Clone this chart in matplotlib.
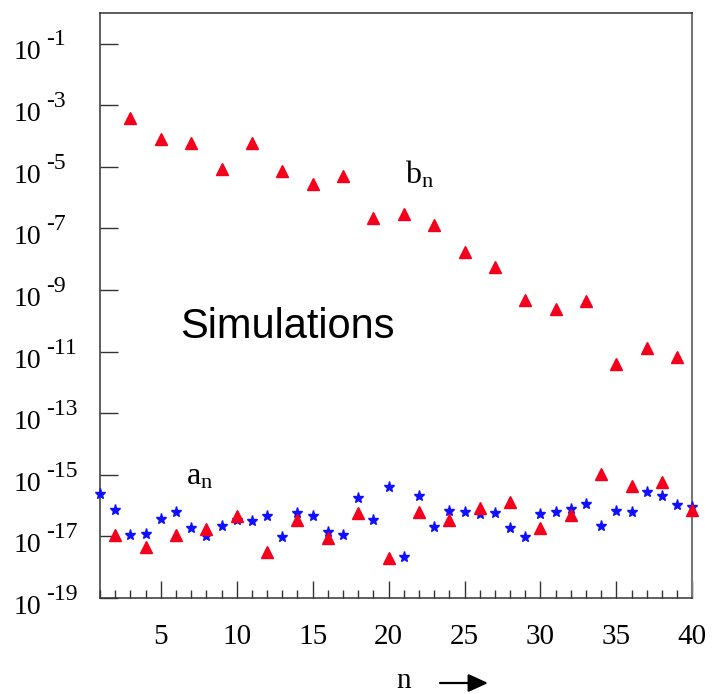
import matplotlib
matplotlib.use('Agg')
import matplotlib.pyplot as plt
from matplotlib.ticker import FixedLocator, MultipleLocator

plt.rcParams['font.family'] = ['Liberation Serif', 'DejaVu Serif']
plt.rcParams['mathtext.fontset'] = 'custom'
plt.rcParams['mathtext.rm'] = 'Liberation Serif'
plt.rcParams['mathtext.it'] = 'Liberation Serif:italic'

# b_n at odd n (red triangles, upper branch), log10 values
n_odd = [3, 5, 7, 9, 11, 13, 15, 17, 19, 21, 23, 25, 27, 29, 31, 33, 35, 37, 39]
b_odd_log = [-3.43, -4.09, -4.24, -5.07, -4.24, -5.15, -5.57, -5.31, -6.66, -6.52,
             -6.90, -7.78, -8.27, -9.33, -9.62, -9.35, -11.40, -10.89, -11.18]

# b_n at even n (red triangles, noise floor)
n_even = [2, 4, 6, 8, 10, 12, 14, 16, 18, 20, 22, 24, 26, 28, 30, 32, 34, 36, 38, 40]
b_even_log = [-16.97, -17.34, -16.97, -16.76, -16.35, -17.50, -16.46, -17.06, -16.23, -17.70,
              -16.20, -16.46, -16.07, -15.88, -16.72, -16.31, -14.97, -15.37, -15.25, -16.14]

# a_n for all n (blue stars)
n_all = list(range(1, 41))
a_log = [-15.63, -16.15, -16.96, -16.91, -16.44, -16.21, -16.74, -16.99, -16.67, -16.47,
         -16.51, -16.34, -17.03, -16.24, -16.34, -16.85, -16.96, -15.74, -16.47, -15.40,
         -17.66, -15.70, -16.69, -16.17, -16.21, -16.26, -16.24, -16.74, -17.03, -16.28,
         -16.21, -16.10, -15.96, -16.67, -16.18, -16.21, -15.56, -15.70, -15.99, -16.04]

ytick_exps = [-19, -17, -15, -13, -11, -9, -7, -5, -3, -1]

fig = plt.figure(figsize=(7.16, 6.94), dpi=100)
ax = fig.add_axes([0.1397, 0.1383, 0.8272, 0.8434])

ax.plot(n_all, [10.0 ** v for v in a_log], linestyle='none', marker='*',
        markersize=8, color='#1010ff', clip_on=False, zorder=3)
ax.plot(n_even, [10.0 ** v for v in b_even_log], linestyle='none', marker='^',
        markersize=8.5, color='#f5001c', clip_on=False, zorder=3)
ax.plot(n_odd, [10.0 ** v for v in b_odd_log], linestyle='none', marker='^',
        markersize=8.5, color='#f5001c', clip_on=False, zorder=3)

ax.set_yscale('log')
ax.set_ylim(1e-19, 1e0)
ax.set_xlim(1, 40)

ax.yaxis.set_major_locator(FixedLocator([10.0 ** e for e in ytick_exps]))
ax.yaxis.set_minor_locator(FixedLocator([]))
ax.xaxis.set_major_locator(MultipleLocator(5))
ax.xaxis.set_minor_locator(MultipleLocator(1))

ax.tick_params(axis='y', which='major', direction='in', length=13, width=1,
               color='#333333', labelleft=False, right=False)
ax.tick_params(axis='x', which='major', direction='in', length=12, width=1,
               color='#333333', labelsize=21, pad=19, top=False)
ax.tick_params(axis='x', which='minor', direction='in', length=6, width=1,
               color='#333333', top=False)

# ROOT-style y labels: "10" with a large raised exponent, left-aligned
for e in ytick_exps:
    ax.annotate('10', xy=(0, 10.0 ** e), xycoords=('axes fraction', 'data'),
                xytext=(-62, -11.5), textcoords='offset points',
                fontsize=20, ha='left', va='baseline', annotation_clip=False)
    ax.annotate('-%d' % -e, xy=(0, 10.0 ** e), xycoords=('axes fraction', 'data'),
                xytext=(-38.5, -1.4), textcoords='offset points',
                fontsize=17, ha='left', va='baseline', annotation_clip=False)

for side in ['left', 'bottom', 'top']:
    ax.spines[side].set_color('#333333')
    ax.spines[side].set_linewidth(1.1)
ax.spines['right'].set_color('#777777')
ax.spines['right'].set_linewidth(1.5)

ax.text(21.08, 10 ** -5.54, r'$\mathrm{b_n}$', fontsize=23, ha='left', va='baseline')
ax.text(6.66, 10 ** -15.32, r'$\mathrm{a_n}$', fontsize=23, ha='left', va='baseline')
ax.text(6.27, 10 ** -10.56, 'Simulations', family=['Liberation Sans', 'DejaVu Sans'],
        fontsize=30, ha='left', va='baseline')

fig.text(404 / 716, 6 / 694, 'n', fontsize=21, ha='center', va='baseline')
ax.annotate('', xy=(488 / 716, 11 / 694), xytext=(440 / 716, 11 / 694),
            xycoords='figure fraction', textcoords='figure fraction',
            arrowprops=dict(arrowstyle='-|>,head_length=1.2,head_width=0.55',
                            color='black', lw=1.6, shrinkA=0, shrinkB=0))

fig.savefig('out.png', dpi=100)
